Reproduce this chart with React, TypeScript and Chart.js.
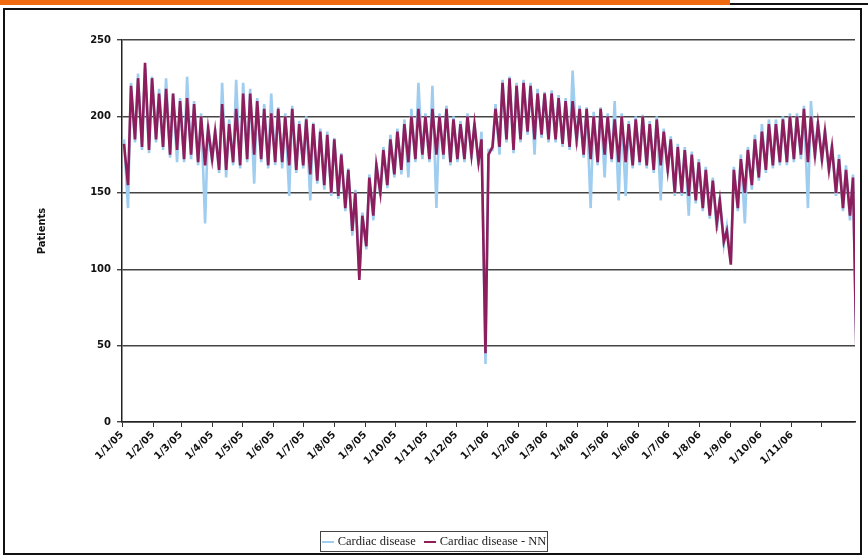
import React, { useEffect, useRef } from "react";
import { Chart, registerables } from "chart.js";
Chart.register(...registerables);

const monthLabels = ["1/1/05","1/2/05","1/3/05","1/4/05","1/5/05","1/6/05","1/7/05","1/8/05","1/9/05","1/10/05","1/11/05","1/12/05","1/1/06","1/2/06","1/3/06","1/4/06","1/5/06","1/6/06","1/7/06","1/8/06","1/9/06","1/10/06","1/11/06",""];
const monthStartDays = [0,31,59,90,120,151,181,212,243,273,304,334,365,396,424,455,485,516,546,577,608,638,669,699];
const yTicks = [0, 50, 100, 150, 200, 250];

// weekly peaks (weekday) and troughs (weekend), Cardiac disease - NN
const nnHigh = [182,220,225,235,225, 215,218,215,210, 212,208,200,192, 190,208,195,205, 215,215,210,205,202, 205,200,205,195, 198,195,190,188, 185,175,165,150,135, 160,168,178,185, 190,195,200,205,200, 205,200,205,198, 195,200,195,185,
 175, 205,222,225,220, 222,220,215,215, 215,212,210,210, 205,205,200,205, 200,198,200,195,198, 200,195,198,190, 185,180,178,175, 170,165,158,145,125, 165,172,178,185, 190,195,195,198, 200,200,205,200,195, 190,180,172,165,160];
const nnLow = [155,185,180,178,185, 180,175,178,172, 175,170,168,172, 165,165,170,168, 172,175,172,168,170, 170,168,165,168, 162,158,155,150, 148,140,125,93,115, 135,150,155,162, 165,170,172,175,172, 175,175,170,172, 172,175,170,45,
 180, 180,185,178,185, 190,185,188,185, 185,182,180,185, 175,172,170,175, 172,170,170,168,170, 168,165,168,165, 150,150,148,145, 140,135,130,118,103, 140,150,155,160, 165,168,170,170, 172,175,170,175,172, 165,150,140,135,25];
// Cardiac disease (observed)
const cdHigh = [185,222,228,232,226, 218,225,215,212, 226,210,202,195, 192,222,198,224, 222,218,212,208,215, 206,202,207,197, 200,196,192,190, 186,176,166,152,137, 162,170,180,188, 192,198,205,222,202, 220,202,207,200, 197,202,196,190,
 178, 208,224,226,222, 224,222,218,216, 217,214,212,230, 207,206,203,206, 202,210,202,197,200, 201,197,200,192, 187,182,180,177, 172,167,160,147,128, 167,175,180,188, 195,198,198,200, 202,202,207,210,197, 192,182,175,168,162];
const cdLow = [140,183,178,176,183, 178,173,170,170, 172,168,130,170, 163,160,168,166, 170,156,170,166,168, 166,148,163,166, 145,156,152,148, 146,138,122,95,113, 132,148,153,160, 162,160,170,172,170, 140,172,168,170, 170,172,168,38,
 178, 175,183,176,183, 188,175,186,183, 183,180,178,180, 173,140,168,160, 170,145,148,166,168, 166,163,145,163, 148,148,135,143, 138,133,125,116,105, 138,130,152,158, 163,166,168,168, 170,172,140,172,170, 163,148,138,132,22];

function toPoints(high: number[], low: number[]) {
  const pts: { x: number; y: number }[] = [];
  for (let w = 0; w < high.length; w++) {
    pts.push({ x: w * 7 + 2, y: high[w] });
    pts.push({ x: w * 7 + 6, y: low[w] });
  }
  return pts;
}

export default function App() {
  const ref = useRef<HTMLCanvasElement>(null);
  useEffect(() => {
    const font = { family: "DejaVu Sans", size: 10, weight: "bold" as const };
    const chart = new Chart(ref.current!, {
      type: "line",
      data: {
        datasets: [
          { label: "Cardiac disease - NN", data: toPoints(nnHigh, nnLow), borderColor: "#8e1d5c", borderWidth: 2.6, pointRadius: 0, tension: 0, order: 1 },
          { label: "Cardiac disease", data: toPoints(cdHigh, cdLow), borderColor: "#9fcdef", borderWidth: 2.6, pointRadius: 0, tension: 0, order: 2 },
        ],
      },
      options: {
        animation: false,
        responsive: false,
        layout: { padding: { left: 0, right: 13, top: 40, bottom: 0 } },
        plugins: { legend: { display: false }, tooltip: { enabled: false } },
        scales: {
          x: {
            type: "linear", min: 0, max: 732,
            afterBuildTicks: (s: any) => { s.ticks = monthStartDays.map((v) => ({ value: v })); },
            afterFit: (s: any) => { s.height = 135; },
            ticks: {
              autoSkip: false, minRotation: 45, maxRotation: 45, color: "#111", font, padding: 2,
              callback: (v: any) => { const i = monthStartDays.indexOf(Number(v)); return i >= 0 ? monthLabels[i] : ""; },
            },
            grid: { drawOnChartArea: false, drawTicks: true, tickLength: 5, color: "#333" },
            border: { color: "#222", width: 1.5 },
          },
          y: {
            min: 0, max: 250,
            afterBuildTicks: (s: any) => { s.ticks = yTicks.map((v) => ({ value: v })); },
            afterFit: (s: any) => { s.width = 122; },
            ticks: { color: "#111", font, padding: 6 },
            grid: { color: "#444", lineWidth: 1.4, drawTicks: true, tickLength: 5 },
            border: { color: "#222", width: 1.5 },
            title: { display: true, text: "Patients", color: "#111", font: { family: "DejaVu Sans", size: 10, weight: "bold" }, padding: { top: 36, bottom: 0 } },
          },
        },
      },
    });
    return () => chart.destroy();
  }, []);
  return (
    <div style={{ position: "fixed", left: 0, top: 0, width: 868, height: 557, background: "#fff", overflow: "hidden" }}>
      <div style={{ position: "absolute", left: 0, top: 0, width: 730, height: 5, background: "#f06a10" }} />
      <div style={{ position: "absolute", left: 730, top: 3, width: 138, height: 2, background: "#111" }} />
      <div style={{ position: "absolute", left: 3, top: 8, width: 855, height: 543, border: "2px solid #111" }} />
      <canvas ref={ref} width={868} height={557} style={{ position: "absolute", left: 0, top: 0 }} />
      <div style={{ position: "absolute", left: 320, top: 531, width: 226, height: 19, border: "1px solid #444", display: "flex", alignItems: "center", justifyContent: "center", gap: 4, fontFamily: "Liberation Serif", fontSize: 12.5, color: "#222" }}>
        <span style={{ display: "inline-block", width: 12, height: 2, background: "#9fcdef" }} />
        <span>Cardiac disease</span>
        <span style={{ display: "inline-block", width: 12, height: 2, background: "#8e1d5c", marginLeft: 4 }} />
        <span>Cardiac disease - NN</span>
      </div>
    </div>
  );
}
